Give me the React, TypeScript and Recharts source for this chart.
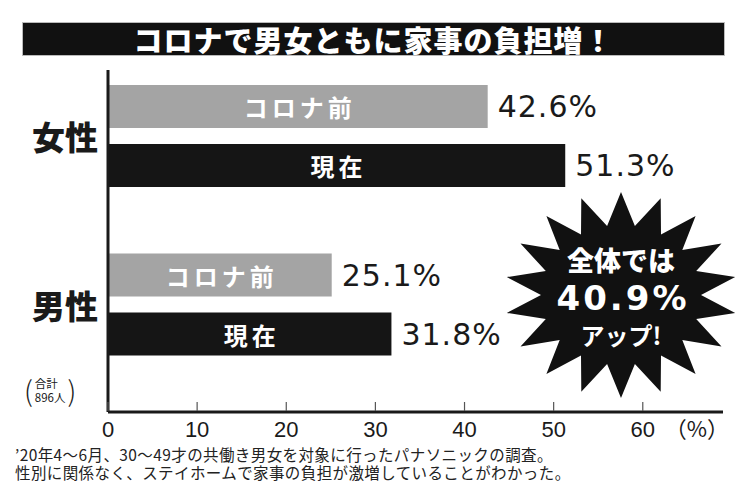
import React from 'react';
import { BarChart, Bar, XAxis, YAxis, LabelList } from 'recharts';

const categories = ['女性', '男性'];
const seriesNames = ['コロナ前', '現在'];
const beforeValues = [42.6, 25.1];
const nowValues = [51.3, 31.8];
const xTicks = [0, 10, 20, 30, 40, 50, 60];
const overallIncrease = 40.9;

const title = 'コロナで男女ともに家事の負担増！';
const notes = [
  '’20年4～6月、30～49才の共働き男女を対象に行ったパナソニックの調査。',
  '性別に関係なく、ステイホームで家事の負担が激増していることがわかった。',
];

const jp = '"Noto Sans CJK JP", "Noto Sans", sans-serif';
const grayBar = '#a4a4a4';
const blackBar = '#151515';
const ink = '#1a1a1a';

const data = categories.map((name, i) => ({
  name,
  before: beforeValues[i],
  now: nowValues[i],
}));

function XTick({ x, y, payload }: any) {
  return (
    <g>
      <line x1={x} x2={x} y1={y - 10} y2={y - 1} stroke="#555" strokeWidth={1.2} />
      <text
        x={x}
        y={y + 25}
        textAnchor="middle"
        fontSize={22}
        fontFamily="'Liberation Sans', Arial, sans-serif"
        fill={ink}
      >
        {payload.value}
      </text>
    </g>
  );
}

function YTick({ x, y, payload }: any) {
  return (
    <text
      x={x}
      y={y}
      textAnchor="end"
      dominantBaseline="central"
      fontSize={33}
      fontWeight={900}
      fontFamily={jp}
      fill={ink}
    >
      {payload.value}
    </text>
  );
}

const innerLabel = (name: string) => (props: any) => {
  const { x, y, width, height } = props;
  return (
    <text
      x={x + width / 2 + 2}
      y={y + height / 2}
      textAnchor="middle"
      dominantBaseline="central"
      fontSize={24}
      fontWeight={700}
      letterSpacing={4}
      fontFamily={jp}
      fill="#fff"
    >
      {name}
    </text>
  );
};

// starburst badge behind the overall figure
function Starburst() {
  const cx = 621;
  const cy = 295;
  const spikes = 18;
  const pts: string[] = [];
  for (let i = 0; i < spikes * 2; i++) {
    const a = -Math.PI / 2 + (i * Math.PI) / spikes;
    const outer = i % 2 === 0;
    const rx = outer ? 116 : 80;
    const ry = outer ? 103 : 70;
    pts.push(`${(cx + rx * Math.cos(a)).toFixed(1)},${(cy + ry * Math.sin(a)).toFixed(1)}`);
  }
  return (
    <svg width={750} height={500} style={{ position: 'absolute', left: 0, top: 0 }}>
      <polygon points={pts.join(' ')} fill="#111" />
      <text x={cx} y={259} textAnchor="middle" dominantBaseline="central" fontSize={27} fontWeight={900} fontFamily={jp} fill="#fff">
        全体では
      </text>
      <text
        x={cx + 2}
        y={298}
        textAnchor="middle"
        dominantBaseline="central"
        fontSize={34}
        fontWeight={700}
        letterSpacing={3}
        fontFamily="'DejaVu Sans', sans-serif"
        fill="#fff"
      >
        {`${overallIncrease}%`}
      </text>
      <text x={cx} y={334} textAnchor="middle" dominantBaseline="central" fontSize={24} fontWeight={700} fontFamily={jp} fill="#fff">
        アップ!
      </text>
    </svg>
  );
}

export default function App() {
  return (
    <div style={{ position: 'absolute', left: 0, top: 0, width: 750, height: 500, background: '#fff', overflow: 'hidden' }}>
      <BarChart
        width={750}
        height={500}
        data={data}
        layout="vertical"
        margin={{ top: 70, right: 27, bottom: 58, left: 0 }}
        barSize={43}
        barGap={16}
      >
        <XAxis
          type="number"
          domain={[0, 69]}
          ticks={xTicks}
          height={30}
          axisLine={{ stroke: ink, strokeWidth: 3 }}
          tickLine={false}
          tickSize={0}
          tickMargin={0}
          tick={<XTick />}
          interval={0}
          label={{
            content: ({ viewBox }: any) => (
              <text
                x={viewBox.x + viewBox.width - 26}
                y={viewBox.y + 25}
                textAnchor="middle"
                fontSize={22}
                fontFamily={jp}
                fill={ink}
              >
                （%）
              </text>
            ),
          }}
        />
        <YAxis
          type="category"
          dataKey="name"
          width={108}
          axisLine={{ stroke: ink, strokeWidth: 3 }}
          tickLine={false}
          tickSize={0}
          tickMargin={10}
          tick={<YTick />}
          padding={{ top: -18, bottom: 23 }}
        />
        <Bar dataKey="before" name={seriesNames[0]} fill={grayBar} isAnimationActive={false}>
          <LabelList content={innerLabel(seriesNames[0])} />
          <LabelList
            dataKey="before"
            position="right"
            offset={10}
            formatter={(v: any) => `${v}%`}
            fill={ink}
            fontSize={30}
            letterSpacing={1}
            fontFamily="'DejaVu Sans', sans-serif"
          />
        </Bar>
        <Bar dataKey="now" name={seriesNames[1]} fill={blackBar} isAnimationActive={false}>
          <LabelList content={innerLabel(seriesNames[1])} />
          <LabelList
            dataKey="now"
            position="right"
            offset={10}
            formatter={(v: any) => `${v}%`}
            fill={ink}
            fontSize={30}
            letterSpacing={1}
            fontFamily="'DejaVu Sans', sans-serif"
          />
        </Bar>
      </BarChart>

      <div
        style={{
          position: 'absolute',
          left: 22,
          top: 22,
          width: 701,
          height: 32,
          background: '#111',
          border: '1px solid #bbb',
          color: '#fff',
          fontFamily: jp,
          fontWeight: 900,
          fontSize: 29,
          lineHeight: '32px',
          letterSpacing: 1,
          textAlign: 'center',
          whiteSpace: 'nowrap',
        }}
      >
        {title}
      </div>

      <Starburst />

      <div
        style={{
          position: 'absolute',
          left: 24,
          top: 374,
          height: 32,
          display: 'flex',
          alignItems: 'center',
          fontFamily: jp,
          color: ink,
        }}
      >
        <span style={{ fontSize: 28, fontWeight: 300, lineHeight: '32px' }}>(</span>
        <div style={{ fontSize: 11.5, lineHeight: '14px', padding: '0 2px' }}>
          <div>合計</div>
          <div>896人</div>
        </div>
        <span style={{ fontSize: 28, fontWeight: 300, lineHeight: '32px' }}>)</span>
      </div>

      <div
        style={{
          position: 'absolute',
          left: 15,
          top: 445,
          fontFamily: jp,
          fontSize: 15.5,
          lineHeight: '18px',
          letterSpacing: 0.4,
          color: '#222',
          whiteSpace: 'nowrap',
        }}
      >
        {notes.map((n) => (
          <div key={n}>{n}</div>
        ))}
      </div>
    </div>
  );
}
